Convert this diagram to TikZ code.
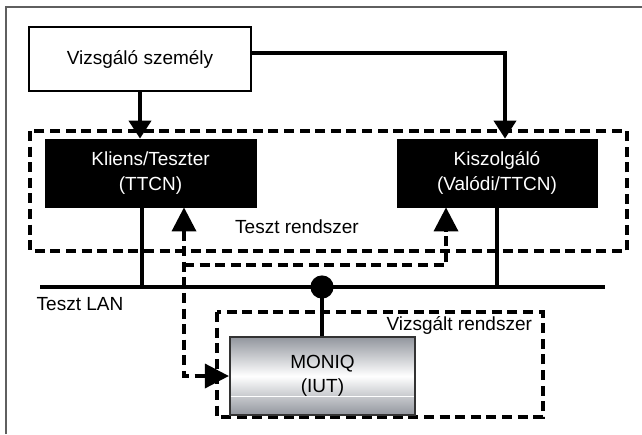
\documentclass[tikz,border=0pt]{standalone}
\usepackage{fontspec}
\setmainfont{Liberation Sans}
\usepackage{xcolor}
\usetikzlibrary{arrows.meta, positioning}

\definecolor{iutgray}{RGB}{146,150,158}
\definecolor{framegray}{RGB}{95,95,95}

\begin{document}
\begin{tikzpicture}[x=0.5pt, y=-0.5pt,
    font=\fontsize{9.5}{12.2}\selectfont,
    person/.style={draw, line width=0.9pt, fill=white, minimum width=111pt, minimum height=32pt, align=center},
    unit/.style={draw, fill=black, text=white, minimum height=34pt, align=center},
    iut/.style={draw=black!80, line width=1.1pt, top color=iutgray, bottom color=iutgray, middle color=white, minimum width=92.5pt, minimum height=39pt, align=center},
    group/.style={draw, line width=1.6pt, dash pattern=on 5pt off 2.8pt},
    link/.style={draw, line width=2pt, -{Triangle[width=11pt,length=9pt]}},
    test/.style={draw, line width=1.8pt, dash pattern=on 5pt off 2.8pt, >={Triangle[width=12pt,length=12pt]}},
    lan/.style={draw, line width=2.4pt}
]
    \useasboundingbox (0,0) rectangle (642,434);
    \draw[framegray, line width=1pt] (6,434) -- (6,7) -- (642,7);

    % groups
    \draw[group] (30,131) rectangle (627,251);
    \draw[group] (217,312) rectangle (543,417);
    \node (tesztrendszer) at (297,227) {Teszt rendszer};
    \node[anchor=east] (vizsgaltrendszer) at (539,325) {Vizsgált rendszer};

    % nodes
    \node[person] (person) at (140,59) {Vizsgáló személy};
    \node[unit, minimum width=105.5pt] (kliens) at (150.5,173) {Kliens/Teszter\\(TTCN)};
    \node[unit, minimum width=100pt] (kiszolgalo) at (497,173) {Kiszolgáló\\(Valódi/TTCN)};
    \node[iut] (moniq) at (322.5,376) {MONIQ\\(IUT)};
    \draw[white, line width=0.6pt] ([yshift=10pt, xshift=1pt]moniq.south west) -- ([yshift=10pt, xshift=-1pt]moniq.south east);

    % LAN
    \coordinate (lanleft) at (40,287);
    \coordinate (lanright) at (605,287);
    \draw[lan] (lanleft) -- (lanright);
    \node (lanlabel) at (80,304) {Teszt LAN};
    \fill (322,287) circle (5.8pt) coordinate (tap);
    \draw[lan] (tap) -- (tap |- moniq.north);
    \draw[lan] ([xshift=-4.25pt]kliens.south) -- ([xshift=-4.25pt]kliens.south |- lanleft);
    \draw[lan] (kiszolgalo.south) -- (kiszolgalo.south |- lanleft);

    % person
    \draw[link] (person.south) -- (person.south |- kliens.north);
    \draw[link] ([yshift=3pt]person.east) -| ([xshift=4pt]kiszolgalo.north);

    % test traffic
    \draw[test, <->] ([xshift=16.75pt]kliens.south) |- (moniq.west);
    \coordinate (split) at (184,265);
    \draw[test, ->] (split) -| ([xshift=-25.5pt]kiszolgalo.south);

\end{tikzpicture}
\end{document}
